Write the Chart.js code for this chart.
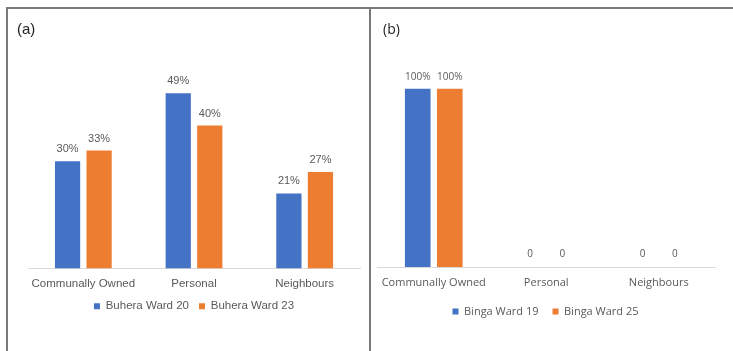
<!DOCTYPE html>
<html>
<head>
<meta charset="utf-8">
<script src="https://cdn.jsdelivr.net/npm/chart.js@4.4.1/dist/chart.umd.min.js"></script>
<style>
  html, body { margin: 0; padding: 0; background: #fff; }
  body { width: 733px; height: 351px; position: relative; overflow: hidden; }
  .cv { position: absolute; top: 0; }
  #wa { left: 0; width: 370px; height: 351px; }
  #wb { left: 372px; width: 361px; height: 351px; }
  .line { position: absolute; background: #7a7a7a; z-index: 5; }
  .lbl { position: absolute; font-family: "Liberation Sans", Arial, sans-serif; font-size: 15px; color: #222; z-index: 5; }
</style>
</head>
<body>
<div class="line" style="left:6px; top:7px; width:727px; height:2px;"></div>
<div class="line" style="left:6px; top:7px; width:2px; height:344px;"></div>
<div class="line" style="left:369px; top:7px; width:2px; height:344px;"></div>
<div class="lbl" style="left:17px; top:20px;">(a)</div>
<div class="lbl" style="left:383px; top:19px; font-family:'Open Sans', sans-serif; font-size:14px;">(b)</div>
<div class="cv" id="wa"><canvas id="ca"></canvas></div>
<div class="cv" id="wb"><canvas id="cb"></canvas></div>
<script>
// ---- data ----
const categories = ["Communally Owned", "Personal", "Neighbours"];
const seriesA1Name = "Buhera Ward 20";
const seriesA2Name = "Buhera Ward 23";
const seriesA1 = [0.30, 0.49, 0.21];
const seriesA2 = [0.33, 0.40, 0.27];
const seriesB1Name = "Binga Ward 19";
const seriesB2Name = "Binga Ward 25";
const seriesB1 = [1.00, 0, 0];
const seriesB2 = [1.00, 0, 0];

const BLUE = "#4472C4";
const ORANGE = "#ED7D31";
const GREY = "#595959";

function fmt(v) { return v === 0 ? "0" : Math.round(v * 100) + "%"; }

const valueLabels = {
  id: "valueLabels",
  afterDatasetsDraw(chart, args, opts) {
    const ctx = chart.ctx;
    ctx.save();
    ctx.fillStyle = GREY;
    ctx.font = opts.font;
    ctx.textAlign = "center";
    ctx.textBaseline = "middle";
    chart.data.datasets.forEach((ds, i) => {
      const meta = chart.getDatasetMeta(i);
      meta.data.forEach((bar, j) => {
        const v = ds.data[j];
        ctx.fillText(fmt(v), bar.x, bar.y - (v === 0 ? 13 : 12));
      });
    });
    ctx.restore();
  }
};

function makeChart(id, names, d1, d2, cfg) {
  new Chart(document.getElementById(id), {
    type: "bar",
    data: {
      labels: categories,
      datasets: [
        { label: names[0], data: d1, backgroundColor: BLUE, borderWidth: 0 },
        { label: names[1], data: d2, backgroundColor: ORANGE, borderWidth: 0 }
      ]
    },
    options: {
      responsive: true,
      maintainAspectRatio: false,
      animation: false,
      categoryPercentage: 0.57,
      barPercentage: 0.8,
      layout: { padding: cfg.padding },
      scales: {
        x: {
          grid: { display: false, drawTicks: false },
          border: { display: true, color: "#d9d9d9", width: 1 },
          ticks: { color: GREY, font: { family: cfg.family, size: cfg.tickSize }, padding: cfg.tickPad, maxRotation: 0, autoSkip: false },
          afterFit(s) { s.height = cfg.axisH; }
        },
        y: { display: false, min: 0, max: cfg.max }
      },
      plugins: {
        legend: {
          position: "bottom",
          labels: {
            color: GREY,
            font: { family: cfg.family, size: cfg.legendSize },
            boxWidth: 6, boxHeight: 6,
            padding: cfg.legendPad
          }
        },
        tooltip: { enabled: false },
        valueLabels: { font: cfg.valueFont }
      }
    },
    plugins: [valueLabels]
  });
}

makeChart("ca", [seriesA1Name, seriesA2Name], seriesA1, seriesA2, {
  padding: { left: 28, right: 10, top: 54, bottom: 29 },
  family: "'Liberation Sans', Arial, sans-serif",
  tickSize: 11.5, legendSize: 11.5, tickPad: 8, axisH: 22, legendPad: 10,
  max: 0.6, valueFont: "11px 'Liberation Sans', Arial, sans-serif"
});
makeChart("cb", [seriesB1Name, seriesB2Name], seriesB1, seriesB2, {
  padding: { left: 4, right: 18, top: 53, bottom: 24 },
  family: "'Open Sans', sans-serif",
  tickSize: 11, legendSize: 11, tickPad: 9, axisH: 25, legendPad: 14,
  max: 1.2, valueFont: "10px 'Open Sans', sans-serif"
});
</script>
</body>
</html>
